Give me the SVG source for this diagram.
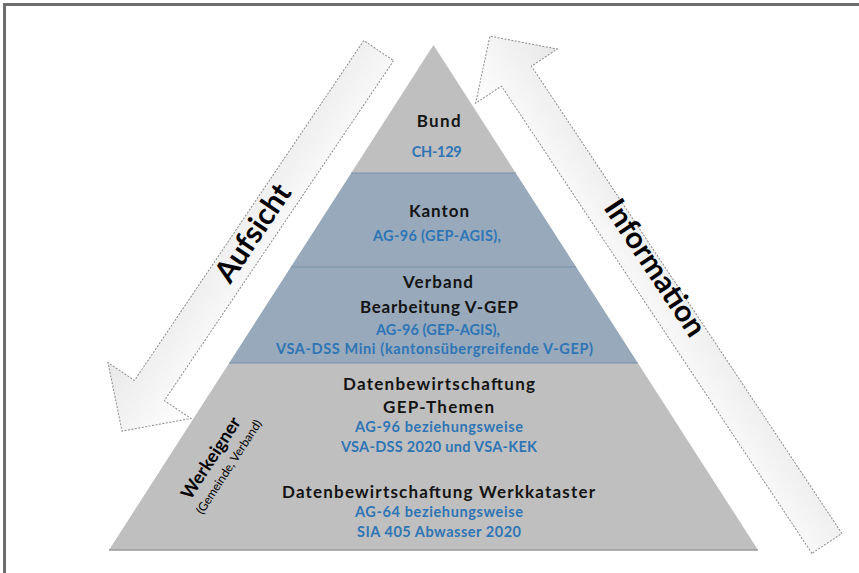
<svg xmlns="http://www.w3.org/2000/svg" width="859" height="573" viewBox="0 0 859 573">
<defs>
<linearGradient id="arrowFill" x1="0" y1="0" x2="0" y2="1">
<stop offset="0" stop-color="#ffffff"/>
<stop offset="1" stop-color="#e8e8e8"/>
</linearGradient>
<style>
.frame{stroke:#6e6e6e;stroke-width:3;fill:none}
.arrow{fill:url(#arrowFill);stroke:#8c8c8c;stroke-width:1;stroke-dasharray:2 1.5}
.gray{fill:#bfbfbf}
.blue{fill:#97a9bb}
.sep{stroke:#7a93ab;stroke-width:1.2;fill:none}
.base{stroke:#9a9a9a;stroke-width:1.5;fill:none}
text{font-family:Lato,"Liberation Sans",Arial,sans-serif;font-weight:bold;text-anchor:middle}
.h{font-size:17px;fill:#141414}
.s{font-size:14.5px;fill:#2e75b6}
.big{font-size:30px;fill:#000}
.we{font-size:18px;fill:#000}
.sub{font-size:12px;font-weight:normal;fill:#000}
</style>
</defs>
<rect width="859" height="573" fill="#ffffff"/>
<path class="frame" d="M4.5,573 V4.5 H859"/>
<g id="connectors">
<g id="arrow-aufsicht">
<path class="arrow" transform="translate(378.7,50.6) rotate(124)" d="M0,-18 L410,-18 L410,-50 L459,0 L410,50 L410,18 L0,18 Z"/>
<text class="big" transform="translate(253,233) rotate(-56)" x="0" y="10">Aufsicht</text>
</g>
<g id="arrow-information">
<path class="arrow" transform="translate(826.9,543.4) rotate(-123.6)" d="M0,-18 L561,-18 L561,-49 L609,0 L561,49 L561,18 L0,18 Z"/>
<text class="big" transform="translate(655,268) rotate(56.4)" x="0" y="10">Information</text>
</g>
</g>
<g id="bund">
<polygon class="gray" points="433.5,45 515.75,173 351.25,173"/>
<text class="h" x="438.7" y="127" textLength="44">Bund</text>
<text class="s" x="436.7" y="157" textLength="50">CH-129</text>
</g>
<g id="kanton">
<polygon class="blue" points="351.25,173 515.75,173 576.16,267 290.84,267"/>
<text class="h" x="439" y="217" textLength="60">Kanton</text>
<text class="s" x="437" y="241" textLength="128">AG-96 (GEP-AGIS),</text>
</g>
<g id="verband">
<polygon class="blue" points="290.84,267 576.16,267 637.85,363 229.15,363"/>
<text class="h" x="438" y="288" textLength="70">Verband</text>
<text class="h" x="439" y="313" textLength="158">Bearbeitung V-GEP</text>
<text class="s" x="438" y="335" textLength="124">AG-96 (GEP-AGIS),</text>
<text class="s" x="434.5" y="354" textLength="317">VSA-DSS Mini (kantonsübergreifende V-GEP)</text>
</g>
<g id="werkeigner">
<polygon class="gray" points="229.15,363 637.85,363 758,550 109,550"/>
<text class="h" x="439" y="390" textLength="192">Datenbewirtschaftung</text>
<text class="h" x="438.5" y="413" textLength="111">GEP-Themen</text>
<text class="s" x="439" y="432" textLength="168">AG-96 beziehungsweise</text>
<text class="s" x="439" y="452" textLength="196">VSA-DSS 2020 und VSA-KEK</text>
<text class="h" x="438.5" y="498" textLength="313">Datenbewirtschaftung Werkkataster</text>
<text class="s" x="439" y="517" textLength="168">AG-64 beziehungsweise</text>
<text class="s" x="439" y="537" textLength="164">SIA 405 Abwasser 2020</text>
<text class="we" transform="translate(211,458) rotate(-57)" x="0" y="6">Werkeigner</text>
<text class="sub" transform="translate(229,467) rotate(-57)" x="0" y="4">(Gemeinde, Verband)</text>
</g>
<g id="separators">
<line class="sep" x1="351.25" y1="173" x2="515.75" y2="173"/>
<line class="sep" x1="290.84" y1="267" x2="576.16" y2="267"/>
<line class="sep" x1="229.15" y1="363" x2="637.85" y2="363"/>
<line class="base" x1="109" y1="550" x2="758" y2="550"/>
</g>
</svg>
